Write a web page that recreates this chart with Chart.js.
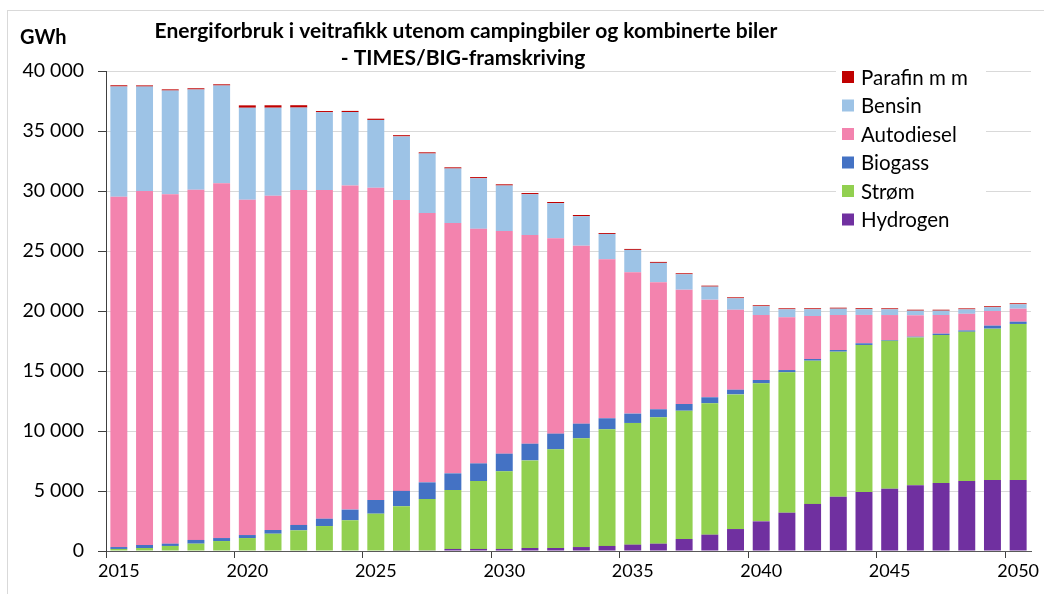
<!DOCTYPE html>
<html>
<head>
<meta charset="utf-8">
<script src="https://cdn.jsdelivr.net/npm/chart.js@4/dist/chart.umd.min.js"></script>
<style>
  html, body { margin: 0; padding: 0; background: #fff; }
  #wrap { position: relative; width: 1044px; height: 594px; }
</style>
</head>
<body>
<div id="wrap"><canvas id="chart" width="1044" height="594"></canvas></div>
<script>
// Years on the x axis
const years = ['2015','2016','2017','2018','2019','2020','2021','2022','2023','2024','2025','2026',
  '2027','2028','2029','2030','2031','2032','2033','2034','2035','2036','2037','2038',
  '2039','2040','2041','2042','2043','2044','2045','2046','2047','2048','2049','2050'];

// GWh per energy carrier
const hydrogen = [0, 0, 0, 0, 0, 0, 0, 0, 0, 0, 0, 30,
  50, 170, 170, 170, 250, 250, 330, 420, 530, 610, 1000, 1360,
  1830, 2470, 3190, 3920, 4530, 4920, 5190, 5470, 5670, 5830, 5920, 5920];
const strom = [170, 250, 420, 610, 830, 1080, 1440, 1720, 2080, 2560, 3110, 3700,
  4280, 4910, 5660, 6470, 7300, 8220, 9060, 9720, 10140, 10530, 10690, 10950,
  11220, 11500, 11700, 11940, 12080, 12250, 12330, 12330, 12330, 12440, 12610, 13000];
const biogass = [160, 250, 190, 310, 250, 250, 310, 450, 610, 890, 1140, 1280,
  1390, 1390, 1470, 1470, 1390, 1310, 1220, 920, 780, 670, 560, 500,
  390, 280, 190, 140, 140, 140, 60, 60, 110, 110, 250, 190];
const autodiesel = [29200, 29500, 29110, 29190, 29560, 27940, 27860, 27920, 27390, 27000, 26025, 24250,
  22445, 20860, 19550, 18556, 17390, 16280, 14830, 13250, 11780, 10590, 9525, 8135,
  6664, 5417, 4392, 3583, 2917, 2361, 2084, 1781, 1556, 1386, 1222, 1081];
const bensin = [9180, 8700, 8650, 8350, 8150, 7667, 7334, 6859, 6484, 6125, 5650, 5292,
  4958, 4542, 4209, 3791, 3400, 2925, 2458, 2112, 1862, 1611, 1287, 1086,
  954, 728, 670, 562, 528, 478, 478, 386, 361, 370, 312, 370];
const parafin = [100, 100, 100, 100, 100, 200, 200, 200, 100, 100, 100, 100,
  100, 100, 100, 100, 100, 100, 100, 80, 80, 80, 80, 80,
  80, 80, 80, 80, 80, 80, 80, 80, 80, 80, 80, 80];

const yTicks = [0, 5000, 10000, 15000, 20000, 25000, 30000, 35000, 40000];

const titleLines = ['Energiforbruk i veitrafikk utenom campingbiler og kombinerte biler', '- TIMES/BIG-framskriving'];
const FONT = 'Lato, "Open Sans", sans-serif';

// Format 40000 -> "40 000"
function fmt(v) {
  return String(v).replace(/\B(?=(\d{3})+(?!\d))/g, ' ');
}

// Title, unit label, outer frame and the legend box
const decorPlugin = {
  id: 'decor',
  afterDraw(chart) {
    const ctx = chart.ctx;
    ctx.save();
    ctx.strokeStyle = '#d9d9d9';
    ctx.lineWidth = 1;
    ctx.strokeRect(7.5, 10.5, 1100, 700);

    ctx.fillStyle = '#000';
    ctx.textBaseline = 'middle';
    ctx.textAlign = 'center';
    ctx.font = 'bold 21px ' + FONT;
    ctx.fillText(titleLines[0], 466, 31);
    ctx.fillText(titleLines[1], 463, 58);

    ctx.textAlign = 'left';
    ctx.font = 'bold 20px ' + FONT;
    ctx.fillText('GWh', 20, 38);

    // legend, top series first
    ctx.fillStyle = '#fff';
    ctx.fillRect(836, 64, 150, 170);
    const items = [...chart.data.datasets].reverse();
    ctx.font = '20.5px ' + FONT;
    items.forEach((ds, i) => {
      const y = 77 + i * 28.5;
      ctx.fillStyle = ds.backgroundColor;
      ctx.fillRect(842, y - 6, 12, 12);
      ctx.fillStyle = '#000';
      ctx.fillText(ds.label, 861, y + 1);
    });
    ctx.restore();
  }
};

const ctx = document.getElementById('chart').getContext('2d');
new Chart(ctx, {
  type: 'bar',
  data: {
    labels: years,
    datasets: [
      { label: 'Hydrogen', data: hydrogen, backgroundColor: '#7030A0' },
      { label: 'Strøm', data: strom, backgroundColor: '#92D050' },
      { label: 'Biogass', data: biogass, backgroundColor: '#4472C4' },
      { label: 'Autodiesel', data: autodiesel, backgroundColor: '#F383AE' },
      { label: 'Bensin', data: bensin, backgroundColor: '#9DC3E6' },
      { label: 'Parafin m m', data: parafin, backgroundColor: '#C00000' }
    ]
  },
  options: {
    responsive: false,
    animation: false,
    layout: { padding: { top: 71, right: 13, bottom: 0, left: 0 } },
    datasets: { bar: { categoryPercentage: 1, barPercentage: 0.66, borderWidth: 0 } },
    plugins: {
      legend: { display: false },
      title: { display: false },
      tooltip: { enabled: false }
    },
    scales: {
      x: {
        stacked: true,
        offset: true,
        afterFit: s => { s.height = 43; },
        border: { color: '#595959', width: 1 },
        grid: {
          offset: true,
          drawOnChartArea: false,
          tickLength: 7,
          tickColor: c => (c.index % 5 === 0 ? '#404040' : 'rgba(0,0,0,0)')
        },
        ticks: {
          autoSkip: false,
          maxRotation: 0,
          padding: 2,
          color: '#000',
          font: { family: FONT, size: 18 },
          callback: (v, i) => (i % 5 === 0 ? years[i] : '')
        }
      },
      y: {
        stacked: true,
        min: yTicks[0],
        max: yTicks[yTicks.length - 1],
        afterFit: s => { s.width = 106; },
        afterBuildTicks: s => { s.ticks = yTicks.map(v => ({ value: v })); },
        border: { color: '#404040', width: 1 },
        grid: { color: '#d9d9d9', tickColor: '#404040', tickLength: 8 },
        ticks: {
          padding: 14,
          color: '#000',
          font: { family: FONT, size: 19.5 },
          callback: v => fmt(v)
        }
      }
    }
  },
  plugins: [decorPlugin]
});
</script>
</body>
</html>
